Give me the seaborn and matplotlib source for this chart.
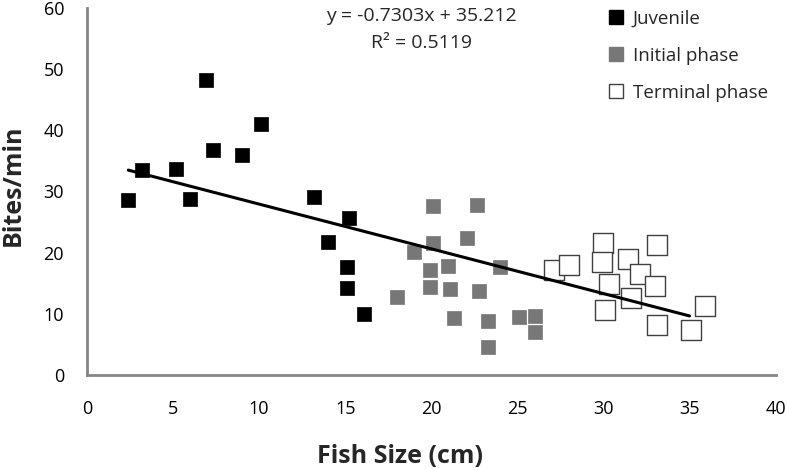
import matplotlib
matplotlib.use("Agg")
import matplotlib.pyplot as plt
from matplotlib.lines import Line2D
import seaborn as sns
import numpy as np
import pandas as pd

# Data
juv_x = [2.4, 3.2, 5.2, 6.9, 6.0, 7.3, 9.0, 10.1, 13.2, 15.2, 14.0, 15.1, 15.1, 16.1]
juv_y = [28.6, 33.4, 33.6, 48.2, 28.7, 36.7, 36.0, 41.0, 29.0, 25.6, 21.7, 17.7, 14.2, 9.9]

ini_x = [20.1, 22.65, 22.1, 20.1, 19.0, 24.0, 21.0, 19.9, 19.9, 21.1, 22.8, 18.0, 21.3, 23.3, 25.1, 26.05, 26.05, 23.3]
ini_y = [27.6, 27.7, 22.4, 21.5, 20.1, 17.7, 17.8, 17.1, 14.4, 14.0, 13.8, 12.7, 9.3, 8.9, 9.5, 9.7, 7.1, 4.5]

ter_x = [27.1, 28.0, 30.0, 29.9, 31.4, 33.1, 32.15, 30.3, 33.0, 31.6, 30.1, 35.9, 33.1, 35.1]
ter_y = [17.2, 18.0, 21.6, 18.4, 18.9, 21.2, 16.5, 14.9, 14.6, 12.6, 10.7, 11.2, 8.1, 7.3]

slope = -0.7303
intercept = 35.212
r2 = 0.5119
fit_x = [2.4, 35.0]

groups = ["Juvenile", "Initial phase", "Terminal phase"]

df = pd.concat([
    pd.DataFrame({"x": juv_x, "y": juv_y, "g": groups[0]}),
    pd.DataFrame({"x": ini_x, "y": ini_y, "g": groups[1]}),
    pd.DataFrame({"x": ter_x, "y": ter_y, "g": groups[2]}),
])

sns.set_style("white")
plt.rcParams["font.family"] = ["Open Sans", "DejaVu Sans"]

fig = plt.figure(figsize=(7.87, 4.70), dpi=100)
ax = fig.add_axes([0.1105, 0.202, 0.875, 0.782])

gray = "#868686"
styles = {
    "Juvenile": dict(color="black", edgecolor="black", s=110, linewidth=0.5),
    "Initial phase": dict(color="#777777", edgecolor="#777777", s=95, linewidth=0.5),
    "Terminal phase": dict(color="white", edgecolor="#404040", s=215, linewidth=1.0),
}
for g in groups:
    sub = df[df.g == g]
    sns.scatterplot(data=sub, x="x", y="y", marker="s", ax=ax, legend=False, zorder=3, **styles[g])

fx = np.array(fit_x)
sns.lineplot(x=fx, y=slope * fx + intercept, color="black", linewidth=2.2, ax=ax, zorder=4)

ax.set_xlim(0, 40)
ax.set_ylim(0, 60)
ax.set_xticks(range(0, 41, 5))
ax.set_yticks(range(0, 61, 10))
for side in ["top", "right"]:
    ax.spines[side].set_visible(False)
for side in ["left", "bottom"]:
    ax.spines[side].set_color(gray)
    ax.spines[side].set_linewidth(2)
ax.tick_params(axis="both", direction="out", length=4.5, width=2, color=gray,
               labelsize=13, labelcolor="black")
ax.tick_params(axis="x", pad=13.5)
ax.tick_params(axis="y", pad=12)

ax.set_xlabel("Fish Size (cm)", fontsize=18, fontweight="bold")
ax.set_ylabel("Bites/min", fontsize=18, fontweight="bold")
# place labels like the reference
ax.xaxis.set_label_coords((400 - 87) / 689, (375 - 444) / 367.5)
ax.yaxis.set_label_coords((26 - 87) / 689, (375 - 185) / 367.5)

eq_x = (422 - 87) / 689
ax.text(eq_x, (375 - 16) / 367.5, "y = -0.7303x + 35.212", transform=ax.transAxes,
        ha="center", va="center", fontsize=14)
ax.text(eq_x, (375 - 43) / 367.5, "R² = 0.5119", transform=ax.transAxes,
        ha="center", va="center", fontsize=14)

handles = [
    Line2D([], [], marker="s", linestyle="none", markersize=9.5,
           markerfacecolor="black", markeredgecolor="black"),
    Line2D([], [], marker="s", linestyle="none", markersize=9.5,
           markerfacecolor="#777777", markeredgecolor="#777777"),
    Line2D([], [], marker="s", linestyle="none", markersize=9.5,
           markerfacecolor="white", markeredgecolor="#404040", markeredgewidth=1.0),
]
fig.legend(handles, groups, loc="upper left",
           bbox_to_anchor=(606.6 / 787, 1 - 10 / 470), frameon=False,
           fontsize=13.5, borderpad=0, borderaxespad=0, handlelength=1.0,
           handletextpad=0.4, labelspacing=1.0)

fig.savefig("out.png", dpi=100)
